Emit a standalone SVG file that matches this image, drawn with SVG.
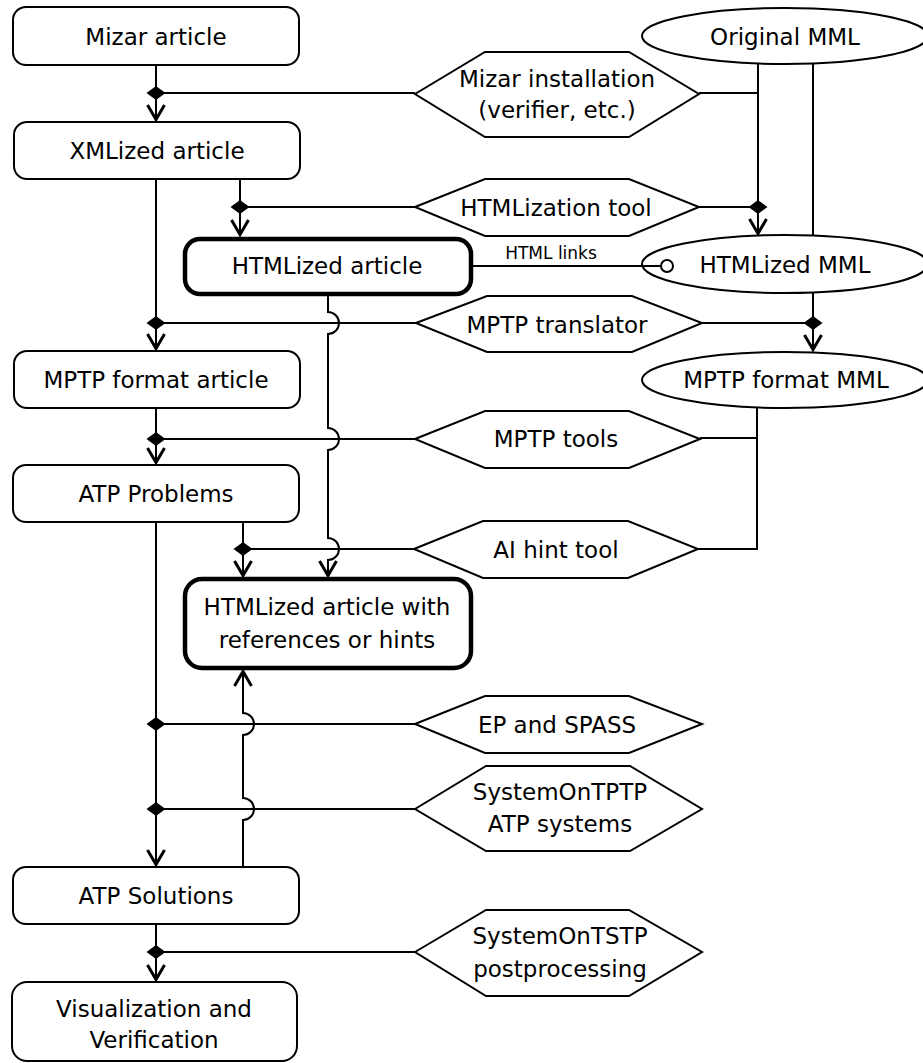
<svg xmlns="http://www.w3.org/2000/svg" xmlns:xlink="http://www.w3.org/1999/xlink" width="923" height="1063" viewBox="0 0 923 1063">
<style>
  .box{fill:#fff;stroke:#000;stroke-width:2}
  .bold{fill:#fff;stroke:#000;stroke-width:4.5}
  .hex{fill:#fff;stroke:#000;stroke-width:2;stroke-linejoin:miter}
  .ell{fill:#fff;stroke:#000;stroke-width:2}
  .t{font-family:"DejaVu Sans","Liberation Sans",sans-serif;font-size:23px;fill:#000;text-anchor:middle}
  .s{font-family:"DejaVu Sans","Liberation Sans",sans-serif;font-size:17px;fill:#000;text-anchor:middle}
  .c{fill:none;stroke:#000;stroke-width:2}
  .ca{fill:none;stroke:#000;stroke-width:2;marker-end:url(#arr)}
</style>
<defs>
  <marker id="arr" markerUnits="userSpaceOnUse" markerWidth="40" markerHeight="40" viewBox="-20 -20 40 40" refX="0" refY="0" orient="auto" overflow="visible">
    <path d="M-16,-8.5 L-1.5,0 L-16,8.5" fill="none" stroke="#000" stroke-width="3" stroke-linejoin="miter"/>
  </marker>
  <polygon id="dia" points="0,-7 9.5,0 0,7 -9.5,0" fill="#000"/>
</defs>

<rect width="923" height="1063" fill="#fff"/>

<g id="mizar-article"><rect class="box" x="13" y="7" width="286" height="58" rx="13"/><text class="t" x="156" y="45">Mizar article</text></g>
<g id="xmlized-article"><rect class="box" x="14" y="122" width="286" height="57" rx="13"/><text class="t" x="157" y="159">XMLized article</text></g>
<g id="htmlized-article"><rect class="bold" x="185" y="239" width="286" height="55" rx="15"/><text class="t" x="327" y="274">HTMLized article</text></g>
<g id="mptp-format-article"><rect class="box" x="14" y="351" width="286" height="57" rx="13"/><text class="t" x="156" y="388">MPTP format article</text></g>
<g id="atp-problems"><rect class="box" x="13" y="465" width="286" height="57" rx="13"/><text class="t" x="156" y="502">ATP Problems</text></g>
<g id="htmlized-article-hints"><rect class="bold" x="185" y="579" width="286" height="89" rx="17"/><text class="t" x="327" y="615">HTMLized article with</text><text class="t" x="327" y="648">references or hints</text></g>
<g id="atp-solutions"><rect class="box" x="13" y="867" width="286" height="57" rx="13"/><text class="t" x="156" y="904">ATP Solutions</text></g>
<g id="visualization"><rect class="box" x="12" y="982" width="285" height="79" rx="15"/><text class="t" x="154" y="1017">Visualization and</text><text class="t" x="154" y="1048">Verification</text></g>

<g id="original-mml"><ellipse class="ell" cx="785" cy="36" rx="143" ry="28"/><text class="t" x="785" y="45">Original MML</text></g>
<g id="htmlized-mml"><ellipse class="ell" cx="785" cy="264" rx="143" ry="29"/><text class="t" x="785" y="273">HTMLized MML</text></g>
<g id="mptp-format-mml"><ellipse class="ell" cx="785" cy="380" rx="143" ry="28"/><text class="t" x="786" y="388">MPTP format MML</text></g>

<g id="mizar-installation"><polygon class="hex" points="415,94 485,52 629,52 699,94 629,137 485,137"/><text class="t" x="557" y="87">Mizar installation</text><text class="t" x="557" y="118">(verifier, etc.)</text></g>
<g id="htmlization-tool"><polygon class="hex" points="415,207 485,179 629,179 699,207 629,236 485,236"/><text class="t" x="556" y="216">HTMLization tool</text></g>
<g id="mptp-translator"><polygon class="hex" points="416,323 487,296 632,296 702,323 632,352 487,352"/><text class="t" x="557" y="333">MPTP translator</text></g>
<g id="mptp-tools"><polygon class="hex" points="415,439 485,411 629,411 700,439 629,468 485,468"/><text class="t" x="556" y="447">MPTP tools</text></g>
<g id="ai-hint-tool"><polygon class="hex" points="414,549 483,521 628,521 698,549 628,578 483,578"/><text class="t" x="556" y="558">AI hint tool</text></g>
<g id="ep-spass"><polygon class="hex" points="415,724 485,696 629,696 702,724 629,753 485,753"/><text class="t" x="557" y="733">EP and SPASS</text></g>
<g id="systemontptp"><polygon class="hex" points="415,809 486,766 630,766 702,809 630,851 486,851"/><text class="t" x="560" y="800">SystemOnTPTP</text><text class="t" x="560" y="832">ATP systems</text></g>
<g id="systemontstp"><polygon class="hex" points="415,952 486,910 629,910 702,952 629,996 486,996"/><text class="t" x="560" y="944">SystemOnTSTP</text><text class="t" x="560" y="977">postprocessing</text></g>

<g id="connectors">
  <!-- Mizar article -> XMLized article -->
  <path class="ca" d="M156,65 V121"/>
  <path class="c" d="M156,93 H415 M699,93 H758"/>
  <use xlink:href="#dia" x="156" y="93"/>
  <!-- Original MML -> HTMLized MML -->
  <path class="ca" d="M758,64 V235"/>
  <path class="c" d="M699,207 H758"/>
  <use xlink:href="#dia" x="758" y="207"/>
  <!-- XMLized -> HTMLized article -->
  <path class="ca" d="M240,179 V236"/>
  <path class="c" d="M240,207 H415"/>
  <use xlink:href="#dia" x="240" y="207"/>
  <!-- HTML links -->
  <path class="c" d="M473,266 H661"/>
  <circle cx="667" cy="266" r="6" fill="#fff" stroke="#000" stroke-width="2"/>
  <text class="s" x="551" y="259">HTML links</text>
  <!-- XMLized -> MPTP format article -->
  <path class="ca" d="M156,179 V350"/>
  <path class="c" d="M156,323 H416"/>
  <use xlink:href="#dia" x="156" y="323"/>
  <!-- Original MML -> MPTP format MML -->
  <path class="c" d="M813,64 V235"/>
  <path class="ca" d="M813,293 V351"/>
  <path class="c" d="M702,323 H813"/>
  <use xlink:href="#dia" x="813" y="323"/>
  <!-- MPTP format article -> ATP Problems -->
  <path class="ca" d="M156,408 V464"/>
  <path class="c" d="M156,439 H415"/>
  <use xlink:href="#dia" x="156" y="439"/>
  <!-- MPTP format MML -> tools -->
  <path class="c" d="M700,438 H757 M757,408 V549 H698"/>
  <!-- HTMLized article -> HTMLized article with hints -->
  <path class="ca" d="M328,294 V312 A11,11 0 0 1 328,334 V428 A11,11 0 0 1 328,450 V538 A11,11 0 0 1 328,560 V577"/>
  <!-- ATP Problems -> HTMLized with hints -->
  <path class="ca" d="M243,522 V577"/>
  <path class="c" d="M243,549 H414"/>
  <use xlink:href="#dia" x="243" y="549"/>
  <!-- ATP Problems -> ATP Solutions -->
  <path class="ca" d="M156,522 V866"/>
  <path class="c" d="M156,724 H415 M156,809 H415"/>
  <use xlink:href="#dia" x="156" y="724"/>
  <use xlink:href="#dia" x="156" y="809"/>
  <!-- ATP Solutions -> HTMLized with hints -->
  <path class="ca" d="M243,867 V820 A11,11 0 0 0 243,798 V735 A11,11 0 0 0 243,713 V670"/>
  <!-- ATP Solutions -> Visualization -->
  <path class="ca" d="M156,924 V981"/>
  <path class="c" d="M156,952 H415"/>
  <use xlink:href="#dia" x="156" y="952"/>
</g>
</svg>
